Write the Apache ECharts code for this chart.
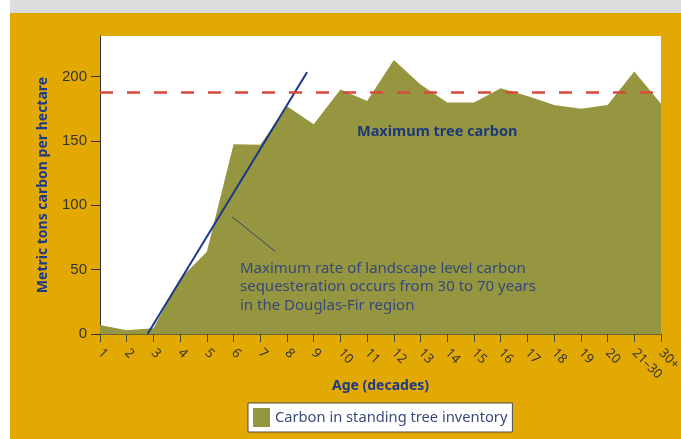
<!DOCTYPE html>
<html>
<head>
<meta charset="utf-8">
<script src="https://cdn.jsdelivr.net/npm/echarts@6/dist/echarts.min.js"></script>
<style>
	html,body{margin:0;padding:0;background:#ffffff;}
	#bg{position:absolute;left:10px;top:0;width:671px;height:439px;background:#E3A903;z-index:0;}
	#band{position:absolute;left:10px;top:0;width:671px;height:13px;background:#DCDCDE;z-index:0;}
	#chart{position:absolute;left:0;top:0;width:681px;height:439px;z-index:1;}
</style>
</head>
<body>
<div id="bg"></div>
<div id="band"></div>
<div id="chart"></div>
<script>
	// 年龄分段（十年）
	var ageLabels=['1','2','3','4','5','6','7','8','9','10','11','12','13','14','15','16','17','18','19','20','21\u201330','30+'];
	// 立木碳储量 吨/公顷
	var carbonValues=[7,3,4.5,43,64,147.5,147,177,163,190,181,213,194,180,180,191,185,178,175,178,204,179];
	var maxCarbon=188;
	var yTicks=[0,50,100,150,200];
	// 最大固碳速率 线段两端 [分段位置, 值]
	var rateLine=[[1.78,0],[7.75,203.5]];
	var pointerLine=[[4.95,91],[6.57,64]];

	var fontFam='"Noto Sans", sans-serif';
	var chart=echarts.init(document.getElementById('chart'),null,{renderer:'canvas'});

	var option={
		backgroundColor:'transparent',
		animation:false,
		grid:{left:100,right:20,top:36,bottom:105,show:true,backgroundColor:'#ffffff',borderWidth:0,outerBoundsMode:'none',containLabel:false},
		legend:{
			data:['Carbon in standing tree inventory'],
			left:248,top:403,
			backgroundColor:'#ffffff',borderColor:'#4a4a4a',borderWidth:1,
			padding:[5,5,5,5],
			itemWidth:17,itemHeight:19,
			icon:'rect',
			textStyle:{color:'#3b4b7a',fontSize:14.7,fontFamily:fontFam}
		},
		xAxis:[{
			type:'category',
			data:ageLabels,
			boundaryGap:false,
			name:'Age (decades)',
			nameLocation:'middle',
			nameGap:45,
			nameMoveOverlap:false,
			nameTextStyle:{color:'#1c3a86',fontSize:14,fontWeight:'bold',fontFamily:fontFam},
			axisLine:{lineStyle:{color:'#4a4a3a',width:1.5}},
			axisTick:{show:true,length:8,alignWithLabel:true,lineStyle:{color:'#4a4a3a'}},
			axisLabel:{rotate:-45,margin:17,color:'#333',fontSize:13,fontFamily:fontFam,interval:0},
			splitLine:{show:false}
		},{
			type:'value',min:0,max:21,show:false
		}],
		yAxis:{
			type:'value',
			min:0,max:231.6,
			name:'Metric tons carbon per hectare',
			nameLocation:'middle',
			nameGap:50,
			nameMoveOverlap:false,
			nameTextStyle:{color:'#1c3a86',fontSize:14,fontWeight:'bold',fontFamily:fontFam},
			axisLine:{show:true,lineStyle:{color:'#333',width:1}},
			axisTick:{show:true,length:9,customValues:yTicks,lineStyle:{color:'#333'}},
			axisLabel:{customValues:yTicks,margin:13,color:'#333',fontSize:15,fontFamily:'"Liberation Sans", sans-serif'},
			splitLine:{show:false}
		},
		series:[{
			name:'Carbon in standing tree inventory',
			type:'line',
			data:carbonValues,
			symbol:'none',
			lineStyle:{width:0},
			itemStyle:{color:'#979640'},
			areaStyle:{color:'#979640',opacity:1},
			z:1,
			markLine:{
				silent:true,
				symbol:'none',
				label:{show:false},
				lineStyle:{color:'#D9493B',width:2.5,type:[13,14]},
				data:[{yAxis:maxCarbon}]
			}
		},{
			name:'rate',
			type:'line',
			xAxisIndex:1,
			data:rateLine,
			symbol:'none',
			lineStyle:{color:'#17388C',width:2},
			z:3
		},{
			name:'pointer',
			type:'line',
			xAxisIndex:1,
			data:pointerLine,
			symbol:'none',
			lineStyle:{color:'#2c4770',width:1},
			z:3
		}],
		graphic:[{
			type:'text',
			left:357,top:124,z:100,
			style:{text:'Maximum tree carbon',fill:'#1c3a78',fontSize:14.5,fontWeight:'bold',fontFamily:fontFam}
		},{
			type:'text',
			left:240,top:259,z:100,
			style:{
				text:'Maximum rate of landscape level carbon\nsequesteration occurs from 30 to 70 years\nin the Douglas-Fir region',
				fill:'#34497a',
				fontSize:15,
				fontFamily:fontFam,
				lineHeight:18.5
			}
		}]
	};
	chart.setOption(option);
</script>
</body>
</html>
